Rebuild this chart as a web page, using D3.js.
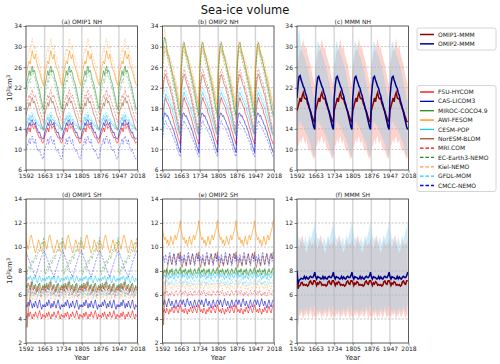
<!DOCTYPE html>
<html>
<head>
<meta charset="utf-8">
<script src="https://cdn.jsdelivr.net/npm/d3@7"></script>
<style>
  body { margin: 0; background: #fff; }
  svg { font-family: "DejaVu Sans", sans-serif; }
</style>
</head>
<body>
<svg id="chart" width="500" height="364"></svg>
<script>
// ---- data ----
const models = ["FSU-HYCOM", "CAS-LICOM3", "MIROC-COCO4.9", "AWI-FESOM", "CESM-POP", "NorESM-BLOM",
                "MRI.COM", "EC-Earth3-NEMO", "Kiel-NEMO", "GFDL-MOM", "CMCC-NEMO"];
const xTicks = [1592, 1663, 1734, 1805, 1876, 1947, 2018];
const cycleStarts = [1592, 1663, 1734, 1805, 1876, 1947];
const cycleYears = [0, 4, 8, 12, 16, 20, 24, 28, 32, 36, 40, 44, 48, 52, 56, 60, 64, 68];
const nhTicks = [6, 10, 14, 18, 22, 26, 30, 34];
const shTicks = [2, 4, 6, 8, 10, 12, 14];

// one forcing cycle per model (order as in models), 10^3 km^3
const omip1NH = [
  [12.5,13.0,13.6,14.2,13.4,14.6,15.0,14.1,14.3,14.6,13.5,13.1,12.6,12.2,12.4,11.6,11.2,11.5],
  [13.2,13.8,14.3,15.2,14.6,15.6,15.8,15.0,14.7,15.3,14.2,13.8,13.2,13.4,12.6,12.3,12.0,12.2],
  [22.0,23.2,24.1,25.3,24.4,25.6,26.2,25.0,25.4,24.6,23.6,23.1,22.2,21.3,20.2,19.3,18.2,17.8],
  [24.2,25.3,26.4,27.2,26.6,28.1,29.2,28.0,27.6,28.5,27.1,26.3,25.6,25.1,24.2,23.4,22.8,22.4],
  [14.6,15.1,15.6,16.2,15.5,16.1,16.7,16.0,15.6,15.8,15.1,15.0,14.6,14.7,14.1,14.2,13.7,13.8],
  [16.6,17.6,18.2,19.1,18.4,19.6,20.1,19.0,19.4,18.6,18.0,17.2,16.5,16.1,15.2,14.6,14.0,13.8],
  [18.1,19.0,19.7,20.6,19.9,21.0,21.6,20.5,20.1,20.6,19.6,19.1,18.4,17.6,17.1,16.2,15.6,15.2],
  [20.2,21.2,22.5,23.6,23.0,24.6,25.5,24.4,24.0,23.6,22.6,22.0,21.1,20.2,19.1,18.2,17.2,16.8],
  [26.1,27.2,28.6,29.6,29.0,30.6,31.6,30.1,29.5,30.2,28.6,28.0,27.1,26.5,25.2,24.1,23.2,22.6],
  [15.2,15.6,16.2,16.8,16.1,17.1,17.3,16.6,16.5,16.2,15.6,15.5,15.1,15.0,14.6,14.5,14.1,14.2],
  [10.1,10.6,11.2,12.1,11.0,12.2,12.6,11.5,11.1,12.0,10.6,10.1,9.6,10.0,9.1,8.6,8.1,8.6]
];
const omip2NH = [
  [15.8,18.0,19.4,20.1,19.3,19.0,18.4,18.1,17.0,16.6,15.9,15.1,14.4,13.6,13.0,12.1,11.6,11.0],
  [14.0,16.1,17.1,17.0,16.4,16.6,15.9,15.6,14.9,14.6,13.9,13.5,12.6,12.1,11.4,10.6,10.0,9.4],
  [25.0,28.2,30.4,30.8,29.6,28.6,28.1,27.0,26.1,25.0,24.1,23.0,22.1,21.0,19.9,18.6,17.6,16.6],
  [26.0,28.6,30.1,29.6,29.2,28.1,27.6,27.0,26.1,25.6,24.5,24.1,23.0,22.1,21.0,20.1,19.0,18.2],
  [17.0,19.1,20.6,21.1,20.4,20.1,19.4,19.1,18.4,18.1,17.0,16.6,15.9,15.1,14.4,13.6,13.0,12.6],
  [20.0,22.6,24.1,24.6,23.9,23.1,22.4,22.1,21.0,20.6,19.4,18.6,17.4,16.6,15.4,14.6,13.4,13.0],
  [21.1,23.6,25.1,25.6,24.9,24.1,23.4,23.1,22.0,21.6,20.4,19.6,18.4,17.6,16.4,15.6,14.4,14.0],
  [24.0,27.1,29.1,29.2,28.4,27.6,26.4,26.1,25.0,24.1,22.9,22.1,20.9,20.1,18.9,17.6,16.4,16.0],
  [27.0,29.6,31.1,30.6,30.0,29.1,28.4,28.1,27.4,26.6,25.9,25.1,23.9,23.1,21.9,21.1,19.9,19.6],
  [18.0,20.1,21.6,22.1,21.4,21.1,20.4,20.1,19.4,19.1,17.9,17.6,16.9,16.1,15.4,14.6,13.9,13.6],
  [12.1,14.1,15.1,15.6,14.9,14.6,14.4,14.1,13.4,13.1,12.4,12.1,11.4,11.1,10.0,9.6,8.9,8.6]
];
const omip1SH = [
  [4.3,4.1,4.5,4.2,4.6,4.3,4.0,4.4,4.2,4.6,4.3,4.1,4.4,4.7,4.3,4.0,4.4,4.2],
  [5.2,5.0,5.4,5.1,5.6,5.3,4.9,5.3,5.0,5.5,5.2,4.9,5.3,5.6,5.1,4.8,5.2,5.0],
  [6.9,6.6,7.0,6.7,6.4,6.8,7.1,6.7,6.5,6.9,6.6,6.3,6.7,7.0,6.6,6.4,6.8,6.6],
  [10.5,10.2,9.8,10.3,10.8,11.0,10.6,10.2,9.8,9.5,9.8,10.2,10.6,10.3,9.9,9.6,9.9,10.4],
  [7.4,7.2,7.5,7.3,7.6,7.4,7.1,7.5,7.3,7.6,7.2,7.0,7.4,7.6,7.3,7.1,7.4,7.2],
  [6.6,6.3,6.8,6.5,6.9,7.1,6.6,6.4,6.8,6.5,6.2,6.6,6.9,6.5,6.2,6.5,6.7,6.4],
  [6.8,6.5,6.2,6.6,6.9,6.4,6.1,6.5,6.3,6.0,6.4,6.7,6.3,6.0,5.8,6.2,6.5,6.3],
  [8.0,7.7,8.2,8.4,8.1,8.7,8.9,8.6,9.1,9.3,9.0,9.5,9.8,9.6,10.1,10.4,10.2,10.8],
  [6.0,5.7,6.1,5.8,6.3,6.0,5.6,5.9,6.2,5.8,5.5,5.9,6.2,6.4,6.0,5.7,6.1,6.3],
  [6.3,6.0,6.4,6.1,6.5,6.2,5.9,6.3,6.0,6.4,6.1,5.8,6.2,6.5,6.1,5.9,6.3,6.1],
  [9.6,9.4,9.1,8.9,8.6,8.4,8.1,7.9,7.7,7.5,7.8,8.1,8.4,8.7,9.0,9.2,9.5,9.7]
];
const omip2SH = [
  [4.9,4.6,4.8,4.5,4.9,4.7,4.4,4.8,4.6,5.0,4.7,4.5,4.8,5.1,4.7,4.5,4.9,5.2],
  [5.5,5.2,5.6,5.3,5.0,5.4,5.7,5.3,5.1,5.5,5.2,4.9,5.3,5.6,5.2,5.0,5.4,5.6],
  [8.0,7.8,8.1,7.9,8.2,7.9,7.7,8.1,7.9,8.2,7.8,7.7,8.0,8.2,7.9,7.8,8.1,8.3],
  [11.4,11.0,10.6,10.8,10.3,10.6,10.1,10.4,10.9,10.5,10.2,10.7,11.0,10.6,10.9,11.3,11.6,12.2],
  [7.6,7.4,7.7,7.5,7.8,7.5,7.3,7.6,7.4,7.8,7.5,7.3,7.6,7.8,7.5,7.4,7.7,7.9],
  [8.6,8.3,8.8,9.1,8.7,8.4,9.0,9.3,8.8,8.5,9.1,9.4,8.9,8.6,9.2,9.5,9.0,9.6],
  [6.2,6.0,6.3,6.1,6.4,6.1,5.9,6.2,6.0,6.3,6.1,5.9,6.2,6.4,6.1,6.0,6.2,6.4],
  [7.9,7.6,8.0,7.8,8.1,7.8,7.6,8.0,7.8,8.1,7.7,7.6,7.9,8.1,7.8,7.7,8.0,8.2],
  [6.9,6.6,7.0,6.7,6.5,6.9,7.1,6.7,6.5,6.9,6.6,6.4,6.8,7.0,6.6,6.5,6.9,7.0],
  [7.1,6.9,7.2,7.0,7.3,7.0,6.8,7.1,6.9,7.2,7.0,6.8,7.1,7.3,7.0,6.9,7.1,7.3],
  [8.8,9.2,8.7,9.4,8.9,8.5,9.3,9.6,9.0,8.6,9.2,9.5,8.8,8.4,9.1,9.4,8.8,9.3]
];

// first-cycle (spin-up) values that differ from the repeated cycle
const kielSpinupNH2 = [29.5, 32.0, 33.5, 32.2];
const mirocSpinupNH2 = [27.5, 30.5, 31.8, 31.2];
const cesmSpinupNH2 = [11.8, 16.0, 19.4, 20.8];
const norEsmSpinupSH1 = [14.0, 3.3, 4.4, 5.3, 5.9];
const norEsmSpinupSH2 = [14.0, 3.5, 5.5, 7.2, 8.0];

// ---- styles ----
const colors = ["#ff0000", "#0000cd", "#228b22", "#ff8c00", "#1ec8ff", "#a0522d",
                "#ff0000", "#228b22", "#ffa040", "#1ec8ff", "#0000ff"];
const dashed = (i) => i >= 6;

const svg = d3.select("#chart");

// panel layout
const colX = [26, 162.5, 297];
const rowY = [26, 199];
const pw = 111.5, ph = 144;

// build a full series from one cycle (+ optional spin-up values)
function buildSeries(cyc, spinup) {
  var out = [];
  cycleStarts.forEach((c, k) => {
    cycleYears.forEach((t, i) => {
      var v = (k === 0 && spinup && i < spinup.length) ? spinup[i] : cyc[i];
      out.push({year: c + t, v: v});
    });
  });
  return out;
}

function panelSeries(set, spinups) {
  return set.map((cyc, i) => buildSeries(cyc, spinups[i]));
}

const series = {
  a: panelSeries(omip1NH, {}),
  b: panelSeries(omip2NH, {2: mirocSpinupNH2, 4: cesmSpinupNH2, 8: kielSpinupNH2}),
  d: panelSeries(omip1SH, {5: norEsmSpinupSH1}),
  e: panelSeries(omip2SH, {5: norEsmSpinupSH2})
};

// multi model mean and spread
function mmm(set) {
  return set[0].map((p, j) => {
    var vals = set.map(s => s[j].v);
    return {year: p.year, mean: d3.mean(vals), lo: d3.min(vals), hi: d3.max(vals)};
  });
}

const panels = [
  {key: "a", title: "(a) OMIP1 NH", col: 0, row: 0},
  {key: "b", title: "(b) OMIP2 NH", col: 1, row: 0},
  {key: "c", title: "(c) MMM NH", col: 2, row: 0, mmm: ["a", "b"]},
  {key: "d", title: "(d) OMIP1 SH", col: 0, row: 1},
  {key: "e", title: "(e) OMIP2 SH", col: 1, row: 1},
  {key: "f", title: "(f) MMM SH", col: 2, row: 1, mmm: ["d", "e"]}
];

panels.forEach(p => {
  var x0 = colX[p.col], y0 = rowY[p.row];
  var x = d3.scaleLinear().domain([1592, 2018]).range([x0, x0 + pw]);
  var yDom = p.row === 0 ? [6, 34] : [2, 14];
  var yT = p.row === 0 ? nhTicks : shTicks;
  var y = d3.scaleLinear().domain(yDom).range([y0 + ph, y0]);

  var g = svg.append("g");

  // clip
  svg.append("clipPath").attr("id", "clip-" + p.key)
    .append("rect").attr("x", x0).attr("y", y0).attr("width", pw).attr("height", ph);

  // grid
  g.selectAll(".vgrid").data(xTicks.slice(1, -1)).join("line")
    .attr("x1", d => x(d)).attr("x2", d => x(d))
    .attr("y1", y0).attr("y2", y0 + ph)
    .attr("stroke", "#d4d4d4").attr("stroke-width", 1.4);
  g.selectAll(".hgrid").data(yT.slice(1, -1)).join("line")
    .attr("x1", x0).attr("x2", x0 + pw)
    .attr("y1", d => y(d)).attr("y2", d => y(d))
    .attr("stroke", "#a0a0a0").attr("stroke-width", 0.6)
    .attr("stroke-dasharray", "2,1.5");

  var plot = g.append("g").attr("clip-path", "url(#clip-" + p.key + ")");

  if (!p.mmm) {
    var line = d3.line().x(d => x(d.year)).y(d => y(d.v));
    series[p.key].forEach((s, i) => {
      plot.append("path")
        .datum(s)
        .attr("d", line)
        .attr("fill", "none")
        .attr("stroke", colors[i])
        .attr("stroke-width", 0.7)
        .attr("stroke-opacity", dashed(i) ? 0.55 : 0.8)
        .attr("stroke-dasharray", dashed(i) ? "2.2,1.2" : null);
    });
  } else {
    var m1 = mmm(series[p.mmm[0]]);
    var m2 = mmm(series[p.mmm[1]]);
    var area = d3.area().x(d => x(d.year)).y0(d => y(d.lo)).y1(d => y(d.hi));
    plot.append("path").datum(m1).attr("d", area)
      .attr("fill", "rgb(250,128,114)").attr("fill-opacity", 0.35);
    plot.append("path").datum(m2).attr("d", area)
      .attr("fill", "rgb(135,206,235)").attr("fill-opacity", 0.38);
    var mline = d3.line().x(d => x(d.year)).y(d => y(d.mean));
    plot.append("path").datum(m1).attr("d", mline)
      .attr("fill", "none").attr("stroke", "#8b0000").attr("stroke-width", 1.5);
    plot.append("path").datum(m2).attr("d", mline)
      .attr("fill", "none").attr("stroke", "#00008b").attr("stroke-width", 1.5);
  }

  // frame
  g.append("rect").attr("x", x0).attr("y", y0).attr("width", pw).attr("height", ph)
    .attr("fill", "none").attr("stroke", "#333").attr("stroke-width", 0.8);

  //Create X axis
  var xAxis = g.append("g")
    .attr("transform", "translate(0," + (y0 + ph) + ")")
    .call(d3.axisBottom(x).tickValues(xTicks).tickFormat(d3.format("d")).tickSize(2.5).tickPadding(1.5));
  //Create Y axis
  var yAxis = g.append("g")
    .attr("transform", "translate(" + x0 + ",0)")
    .call(d3.axisLeft(y).tickValues(yT).tickSize(2.5).tickPadding(1.5));
  [xAxis, yAxis].forEach(a => {
    a.select(".domain").remove();
    a.selectAll("line").attr("stroke", "#333").attr("stroke-width", 0.6);
    a.selectAll("text").attr("fill", "#222").style("font-size", "6px")
      .style("font-family", "DejaVu Sans");
  });

  // panel title
  g.append("text")
    .attr("x", x0 + pw / 2).attr("y", y0 - 2)
    .attr("text-anchor", "middle")
    .style("font-size", "6px").attr("fill", "#222")
    .text(p.title);

  if (p.row === 1) {
    g.append("text")
      .attr("x", x0 + pw / 2).attr("y", 360)
      .attr("text-anchor", "middle")
      .style("font-size", "7px").attr("fill", "#222")
      .text("Year");
  }
});

// y labels
[[88], [271]].forEach(([cy]) => {
  var t = svg.append("text")
    .attr("transform", "translate(12," + cy + ") rotate(-90)")
    .attr("text-anchor", "middle")
    .style("font-size", "7px").attr("fill", "#222");
  t.append("tspan").text("10");
  t.append("tspan").attr("dy", -2.5).style("font-size", "5px").text("3");
  t.append("tspan").attr("dy", 2.5).text("km");
  t.append("tspan").attr("dy", -2.5).style("font-size", "5px").text("3");
});

// title
svg.append("text")
  .attr("x", 245).attr("y", 14)
  .attr("text-anchor", "middle")
  .style("font-size", "11.5px").attr("fill", "#111")
  .text("Sea-ice volume");

// legends
function legend(items, top, height) {
  var lg = svg.append("g");
  lg.append("rect").attr("x", 417).attr("y", top).attr("width", 79).attr("height", height)
    .attr("rx", 2).attr("fill", "#fff").attr("stroke", "#ccc").attr("stroke-width", 0.8);
  items.forEach((it, i) => {
    var yy = top + 6.5 + i * 9.35;
    lg.append("line").attr("x1", 420).attr("x2", 434).attr("y1", yy).attr("y2", yy)
      .attr("stroke", it.color).attr("stroke-width", it.width)
      .attr("stroke-dasharray", it.dash ? "3.5,2" : null);
    lg.append("text").attr("x", 438).attr("y", yy + 2.1)
      .style("font-size", "6px").attr("fill", "#222").text(it.name);
  });
}
legend([{name: "OMIP1-MMM", color: "#8b0000", width: 1.5},
        {name: "OMIP2-MMM", color: "#00008b", width: 1.5}], 28, 22);
legend(models.map((m, i) => ({name: m, color: colors[i], width: 1.3, dash: dashed(i)})), 85.5, 106);
</script>
</body>
</html>
